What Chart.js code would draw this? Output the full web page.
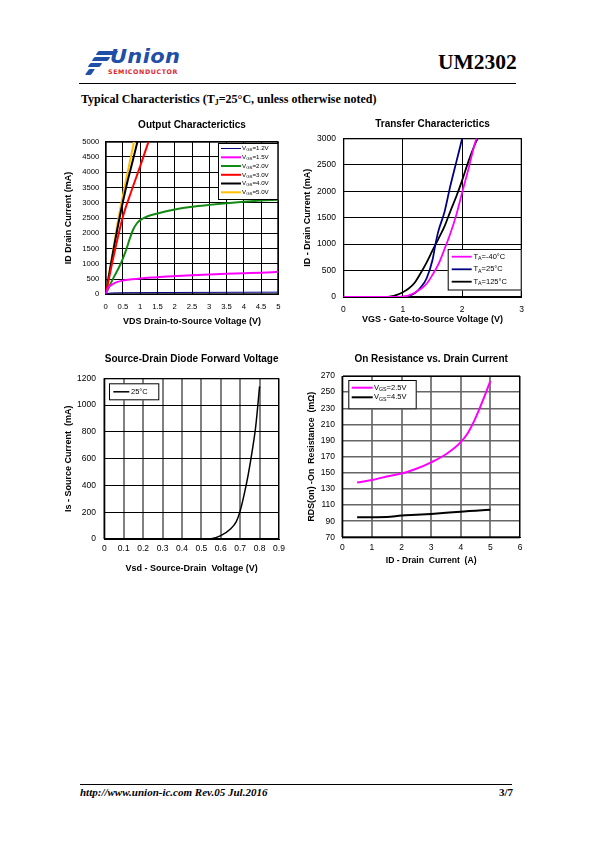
<!DOCTYPE html>
<html>
<head>
<meta charset="utf-8">
<script src="https://cdn.jsdelivr.net/npm/chart.js@4.4.1/dist/chart.umd.min.js"></script>
<style>
    body { margin: 0; width: 595px; height: 842px; background: #fff; position: relative; overflow: hidden; font-family: "Liberation Serif", "Times New Roman", serif; }
    .abs { position: absolute; white-space: nowrap; }
    canvas { position: absolute; }
    .bar { position: absolute; background: #1f4fa6; transform: skewX(-35deg); border-radius: 1px; }
</style>
</head>
<body>
    <!-- header -->
    <div class="bar" style="left:97px;top:51px;width:20px;height:4px;"></div>
    <div class="bar" style="left:93px;top:57px;width:16px;height:4px;"></div>
    <div class="bar" style="left:89px;top:63px;width:12px;height:4px;"></div>
    <div class="bar" style="left:87px;top:69px;width:6px;height:6px;"></div>
    <div class="abs" style="left:110px;top:44px;font:italic bold 20px 'DejaVu Sans';color:#1f4fa6;transform:scaleX(1.05);transform-origin:left;letter-spacing:0.3px;">Union</div>
    <div class="abs" style="left:108px;top:68px;font:bold 6.3px 'DejaVu Sans';color:#e1262d;letter-spacing:0.6px;">SEMICONDUCTOR</div>
    <div class="abs" style="left:438px;top:50px;font:bold 21.5px 'Liberation Serif';color:#000;">UM2302</div>
    <div class="abs" style="left:79px;top:83px;width:437px;height:1px;background:#000;"></div>
    <div class="abs" style="left:81px;top:92px;font:bold 12px 'Liberation Serif';color:#000;">Typical Characteristics (T<span style="font-size:8px;vertical-align:-2px;">J</span>=25°C, unless otherwise noted)</div>

    <canvas id="outputChart" width="230" height="220" style="left:55px;top:112px;"></canvas>
    <canvas id="transferChart" width="235" height="220" style="left:295px;top:110px;"></canvas>
    <canvas id="diodeChart" width="232" height="235" style="left:55px;top:345px;"></canvas>
    <canvas id="rdsChart" width="232" height="235" style="left:295px;top:345px;"></canvas>

    <!-- footer -->
    <div class="abs" style="left:80px;top:784px;width:432px;height:1px;background:#000;"></div>
    <div class="abs" style="left:80px;top:786px;font:italic bold 11px 'Liberation Serif';color:#000;">http://www.union-ic.com Rev.05 Jul.2016</div>
    <div class="abs" style="left:499px;top:786px;font:bold 11px 'Liberation Serif';color:#000;">3/7</div>

<script>
// ---- Output characteristics: VDS (V) vs ID (mA) ----
const vgs12X = [0, 0.1, 0.3, 1, 2.5, 5];
const vgs12Y = [0, 35, 48, 55, 62, 70];
const vgs15X = [0, 0.05, 0.1, 0.2, 0.3, 0.5, 0.75, 1, 1.5, 2, 2.5, 3, 3.5, 4, 4.5, 5];
const vgs15Y = [0, 150, 250, 330, 390, 450, 490, 520, 560, 600, 625, 650, 670, 690, 710, 735];
const vgs20X = [0, 0.1, 0.2, 0.3, 0.4, 0.5, 0.6, 0.7, 0.8, 0.9, 1, 1.2, 1.5, 2, 2.5, 3, 3.5, 4, 4.5, 5];
const vgs20Y = [0, 250, 480, 700, 920, 1180, 1480, 1830, 2130, 2320, 2430, 2550, 2650, 2780, 2870, 2930, 2980, 3030, 3070, 3100];
const vgs30X = [0, 0.25, 0.5, 0.75, 1, 1.24];
const vgs30Y = [0, 1350, 2550, 3400, 4200, 5000];
const vgs40X = [0, 0.2, 0.4, 0.6, 0.8, 0.92];
const vgs40Y = [0, 1300, 2500, 3550, 4450, 5000];
const vgs50X = [0, 0.2, 0.37, 0.6, 0.82];
const vgs50Y = [0, 1350, 2500, 3800, 5000];
const outputLabels = [['V', 'GS', '=1.2V'], ['V', 'GS', '=1.5V'], ['V', 'GS', '=2.0V'], ['V', 'GS', '=3.0V'], ['V', 'GS', '=4.0V'], ['V', 'GS', '=5.0V']];

// ---- Transfer characteristics: VGS (V) vs ID (mA) ----
const tm40X = [0, 0.8, 1, 1.1, 1.2, 1.3, 1.4, 1.5, 1.6, 1.7, 1.8, 1.9, 2, 2.1, 2.2, 2.24];
const tm40Y = [0, 0, 5, 30, 80, 150, 250, 420, 620, 900, 1200, 1550, 1980, 2400, 2850, 3000];
const t25X = [0, 0.9, 1.1, 1.2, 1.3, 1.4, 1.5, 1.55, 1.6, 1.7, 1.8, 1.9, 2.0];
const t25Y = [0, 0, 20, 70, 180, 350, 700, 1000, 1250, 1600, 2100, 2550, 3000];
const t125X = [0, 0.7, 0.8, 0.9, 1, 1.1, 1.2, 1.3, 1.4, 1.5, 1.6, 1.7, 1.8, 1.9, 2, 2.1, 2.2, 2.26];
const t125Y = [0, 0, 10, 40, 90, 160, 270, 450, 650, 880, 1100, 1330, 1620, 1900, 2210, 2550, 2850, 3000];
const transferLabels = [['T', 'A', '=-40°C'], ['T', 'A', '=25°C'], ['T', 'A', '=125°C']];

// ---- Source-drain diode: Vsd (V) vs Is (mA) ----
const diodeX = [0.5, 0.55, 0.6, 0.65, 0.68, 0.7, 0.72, 0.74, 0.76, 0.78, 0.8];
const diodeY = [0, 2, 25, 75, 130, 210, 330, 470, 640, 840, 1140];
const diodeLabels = [['25°C', '', '']];

// ---- On resistance: ID (A) vs RDS(on) (mOhm) ----
const rds25X = [0.5, 1, 1.5, 2, 2.5, 3, 3.5, 4, 4.25, 4.5, 4.75, 5];
const rds25Y = [138, 141, 145.5, 149, 155, 163, 173, 188, 200, 218, 240, 264];
const rds45X = [0.5, 1, 1.5, 2, 2.5, 3, 3.5, 4, 4.5, 5];
const rds45Y = [95, 95, 95.2, 97, 98, 99, 100.3, 101.8, 103, 104.3];
const rdsLabels = [['V', 'GS', '=2.5V'], ['V', 'GS', '=4.5V']];

const zip = (xs, ys) => xs.map((x, i) => ({ x: x, y: ys[i] }));

// frame around plot area
const framePlugin = {
    id: 'frame',
    beforeDatasetsDraw(chart) {
        const a = chart.chartArea;
        const ctx = chart.ctx;
        ctx.save();
        ctx.strokeStyle = '#000';
        ctx.lineWidth = 1;
        ctx.strokeRect(a.left + 0.5, a.top + 0.5, a.right - a.left - 1, a.bottom - a.top - 1);
        ctx.restore();
    }
};

// boxed legend with subscripts
const legendBox = {
    id: 'legendBox',
    afterDatasetsDraw(chart, args, o) {
        if (!o.box) return;
        const ctx = chart.ctx;
        const ox = o.origin[0], oy = o.origin[1];
        const [bx, by, bw, bh] = o.box;
        ctx.save();
        ctx.fillStyle = '#fff';
        ctx.fillRect(bx - ox, by - oy, bw, bh);
        ctx.strokeStyle = '#000';
        ctx.lineWidth = 1;
        ctx.strokeRect(bx - ox + 0.5, by - oy + 0.5, bw - 1, bh - 1);
        chart.data.datasets.forEach((ds, i) => {
            const y = o.rows[i] - oy;
            ctx.strokeStyle = ds.borderColor;
            ctx.lineWidth = ds.borderWidth;
            ctx.beginPath();
            ctx.moveTo(o.line[0] - ox, y);
            ctx.lineTo(o.line[1] - ox, y);
            ctx.stroke();
            const parts = o.labels[i];
            let x = o.textX - ox;
            ctx.fillStyle = '#000';
            ctx.textBaseline = 'middle';
            ctx.font = o.size + 'px Arial, "Liberation Sans"';
            ctx.fillText(parts[0], x, y);
            x += ctx.measureText(parts[0]).width;
            if (parts[1]) {
                ctx.font = (o.size * 0.7) + 'px Arial, "Liberation Sans"';
                ctx.fillText(parts[1], x, y + o.size * 0.25);
                x += ctx.measureText(parts[1]).width;
            }
            ctx.font = o.size + 'px Arial, "Liberation Sans"';
            ctx.fillText(parts[2], x, y);
        });
        ctx.restore();
    }
};

function line(label, xs, ys, color, width) {
    return {
        label: label,
        data: zip(xs, ys),
        showLine: true,
        borderColor: color,
        backgroundColor: color,
        borderWidth: width,
        pointRadius: 0,
        cubicInterpolationMode: 'monotone',
        fill: false
    };
}

function axis(c) {
    return {
        type: 'linear',
        min: c.min,
        max: c.max,
        ticks: {
            stepSize: c.step,
            padding: c.tickPad,
            color: '#000',
            font: { family: 'Arial, "Liberation Sans"', size: c.tickSize },
            callback: v => String(+v.toFixed(2))
        },
        grid: {
            color: c.gridColor,
            lineWidth: c.gridWidth,
            drawTicks: false
        },
        border: { display: true, color: '#000', width: 1 },
        title: {
            display: true,
            text: c.title,
            color: '#000',
            font: { family: 'Arial, "Liberation Sans"', size: c.titleSize, weight: 'bold' },
            padding: c.titlePad
        },
        afterFit: c.fit
    };
}

// place a chart so its plot area lands on the given page rectangle
function makeChart(id, c) {
    const el = document.getElementById(id);
    const cl = parseFloat(el.style.left), ct = parseFloat(el.style.top);
    const ch = el.height, cw = el.width;
    const yWidth = c.area[0] - cl;
    const xHeight = ct + ch - c.area[3];
    const rightPad = cl + cw - c.area[2];
    const titleSize = 10;
    const titleLH = titleSize * 1.2;
    const tTop = c.titleY - ct - titleLH / 2;
    const tBottom = (c.area[1] - ct) - tTop - titleLH;
    c.x.fit = s => { s.height = xHeight; s.paddingLeft = 0; s.paddingRight = 0; };
    c.y.fit = s => { s.width = yWidth; s.paddingTop = 0; s.paddingBottom = 0; };
    c.x.tickPad = c.xTickY - c.area[3] - c.x.tickSize * 0.6;
    c.x.titlePad = { top: 0, bottom: ct + ch - c.xTitleY - c.x.titleSize * 0.6 };
    c.y.tickPad = c.area[0] - c.yTickX;
    c.y.titlePad = { top: c.yTitleX - cl - c.y.titleSize * 0.6, bottom: 0 };
    c.legend.origin = [cl, ct];
    return new Chart(el, {
        type: 'scatter',
        data: { datasets: c.datasets },
        plugins: [framePlugin, legendBox],
        options: {
            responsive: false,
            animation: false,
            layout: { padding: { left: 0, top: 0, bottom: 0, right: rightPad } },
            scales: { x: axis(c.x), y: axis(c.y) },
            plugins: {
                legend: { display: false },
                tooltip: { enabled: false },
                title: {
                    display: true,
                    text: c.title,
                    fullSize: false,
                    color: '#000',
                    font: { family: 'Arial, "Liberation Sans"', size: titleSize, weight: 'bold' },
                    padding: { top: tTop, bottom: tBottom }
                },
                legendBox: c.legend
            }
        }
    });
}

makeChart('outputChart', {
    title: 'Output Characterictics',
    area: [105.7, 141.7, 278.3, 294.3],
    titleY: 125.7, xTickY: 307.3, xTitleY: 322, yTickX: 99.3, yTitleX: 69,
    x: { min: 0, max: 5, step: 0.5, tickSize: 7.7, titleSize: 9, title: 'VDS Drain-to-Source Voltage (V)', gridColor: '#000', gridWidth: 1 },
    y: { min: 0, max: 5000, step: 500, tickSize: 7.7, titleSize: 9, title: 'ID Drain Current (mA)', gridColor: '#000', gridWidth: 1 },
    datasets: [
        line('VGS=1.2V', vgs12X, vgs12Y, '#000080', 1),
        line('VGS=1.5V', vgs15X, vgs15Y, '#ff00ff', 2),
        line('VGS=2.0V', vgs20X, vgs20Y, '#138a13', 2),
        line('VGS=3.0V', vgs30X, vgs30Y, '#ff0000', 2),
        line('VGS=4.0V', vgs40X, vgs40Y, '#000000', 2),
        line('VGS=5.0V', vgs50X, vgs50Y, '#ffc000', 2)
    ],
    legend: { box: [218, 143, 60.3, 57], rows: [148.5, 157.3, 166, 174.8, 183.5, 192.3], line: [221, 241], textX: 242, size: 6.2, labels: outputLabels }
});

makeChart('transferChart', {
    title: 'Transfer Characterictics',
    area: [343.3, 138.3, 521.7, 297],
    titleY: 124, xTickY: 309.3, xTitleY: 320, yTickX: 336, yTitleX: 307.3,
    x: { min: 0, max: 3, step: 1, tickSize: 8.5, titleSize: 9, title: 'VGS - Gate-to-Source Voltage (V)', gridColor: '#000', gridWidth: 1 },
    y: { min: 0, max: 3000, step: 500, tickSize: 8.5, titleSize: 9, title: 'ID - Drain Current (mA)', gridColor: '#000', gridWidth: 1 },
    datasets: [
        line('TA=-40°C', tm40X, tm40Y, '#ff00ff', 1.8),
        line('TA=25°C', t25X, t25Y, '#000080', 1.8),
        line('TA=125°C', t125X, t125Y, '#000000', 1.8)
    ],
    legend: { box: [447.7, 249, 74, 41.5], rows: [256.7, 269.3, 281.7], line: [451.7, 471.7], textX: 473.5, size: 7.5, labels: transferLabels }
});

makeChart('diodeChart', {
    title: 'Source-Drain Diode Forward Voltage',
    area: [104.3, 378.3, 279, 539],
    titleY: 359, xTickY: 548.3, xTitleY: 568.3, yTickX: 96, yTitleX: 68.3,
    x: { min: 0, max: 0.9, step: 0.1, tickSize: 8.5, titleSize: 9, title: 'Vsd - Source-Drain  Voltage (V)', gridColor: '#808080', gridWidth: 2 },
    y: { min: 0, max: 1200, step: 200, tickSize: 8.5, titleSize: 9, title: 'Is - Source Current  (mA)', gridColor: '#000', gridWidth: 1 },
    datasets: [
        line('25°C', diodeX, diodeY, '#000000', 1.5)
    ],
    legend: { box: [109, 383.3, 50.3, 17], rows: [391.8], line: [113.3, 129.3], textX: 131, size: 7.5, labels: diodeLabels }
});

makeChart('rdsChart', {
    title: 'On Resistance vs. Drain Current',
    area: [342.3, 376, 520, 537.3],
    titleY: 359, xTickY: 547.3, xTitleY: 561, yTickX: 335, yTitleX: 311.7,
    x: { min: 0, max: 6, step: 1, tickSize: 8.5, titleSize: 8.6, title: 'ID - Drain  Current  (A)', gridColor: '#808080', gridWidth: 2 },
    y: { min: 70, max: 270, step: 20, tickSize: 8.5, titleSize: 8.8, title: 'RDS(on) -On  Resistance  (mΩ)', gridColor: '#666', gridWidth: 1.5 },
    datasets: [
        line('VGS=2.5V', rds25X, rds25Y, '#ff00ff', 2),
        line('VGS=4.5V', rds45X, rds45Y, '#000000', 2)
    ],
    legend: { box: [348.3, 380, 68.4, 29.3], rows: [387.7, 397.3], line: [351.7, 372.7], textX: 374, size: 7.5, labels: rdsLabels }
});
</script>
</body>
</html>
